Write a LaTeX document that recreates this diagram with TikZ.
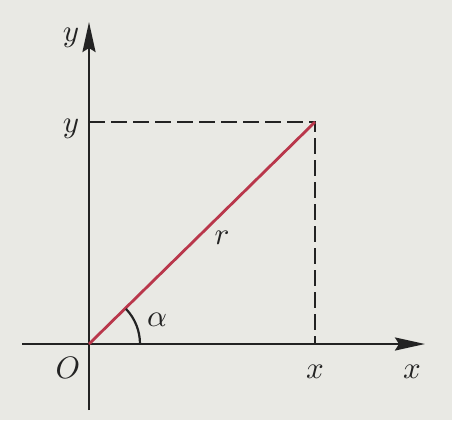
\documentclass[tikz,border=0pt]{standalone}
\usepackage{graphicx}
\usetikzlibrary{arrows.meta}
\definecolor{rline}{RGB}{185,55,75}
\definecolor{ink}{RGB}{35,35,35}
\definecolor{paper}{RGB}{233,233,228}
\newcommand{\biglbl}[1]{\scalebox{3.1}{$#1$}}
\begin{document}
\begin{tikzpicture}[x=1pt,y=-1pt,
  axis/.style={ink,line width=2.4pt,-{Stealth[length=30pt,width=13pt,inset=4pt]}},
  guide/.style={ink,line width=2.6pt,dash pattern=on 16pt off 6pt},
  radius line/.style={rline,line width=2.8pt},
  lbl/.style={ink,inner sep=0pt}]
\useasboundingbox (0,0) rectangle (452,420);
\fill[paper] (0,0) rectangle (452,420);
\coordinate (O) at (89,344);
\coordinate (xs) at (22,344);
\coordinate (xe) at (425,344);
\coordinate (ys) at (89,410);
\coordinate (ye) at (89,22);
\coordinate (P) at (315,122);
\coordinate (Px) at (315,344);
\coordinate (Py) at (89,122);
\coordinate (A) at (140,344);
\draw[axis] (xs) -- (xe);
\draw[axis] (ys) -- (ye);
\draw[guide] (Py) -- (P) -- (Px);
\draw[radius line] (O) -- (P);
\draw[ink,line width=2.2pt] (A) arc[start angle=0,end angle=-43.5,radius=51];
\node[lbl] (ly) at (71,38) {\biglbl{y}};
\node[lbl] (lyp) at (71,129) {\biglbl{y}};
\node[lbl] (lO) at (68,368) {\biglbl{O}};
\node[lbl] (lxp) at (315,372) {\biglbl{x}};
\node[lbl] (lx) at (412,372) {\biglbl{x}};
\node[lbl] (lr) at (222,238) {\biglbl{r}};
\node[lbl] (la) at (157,320) {\biglbl{\alpha}};
\end{tikzpicture}
\end{document}
